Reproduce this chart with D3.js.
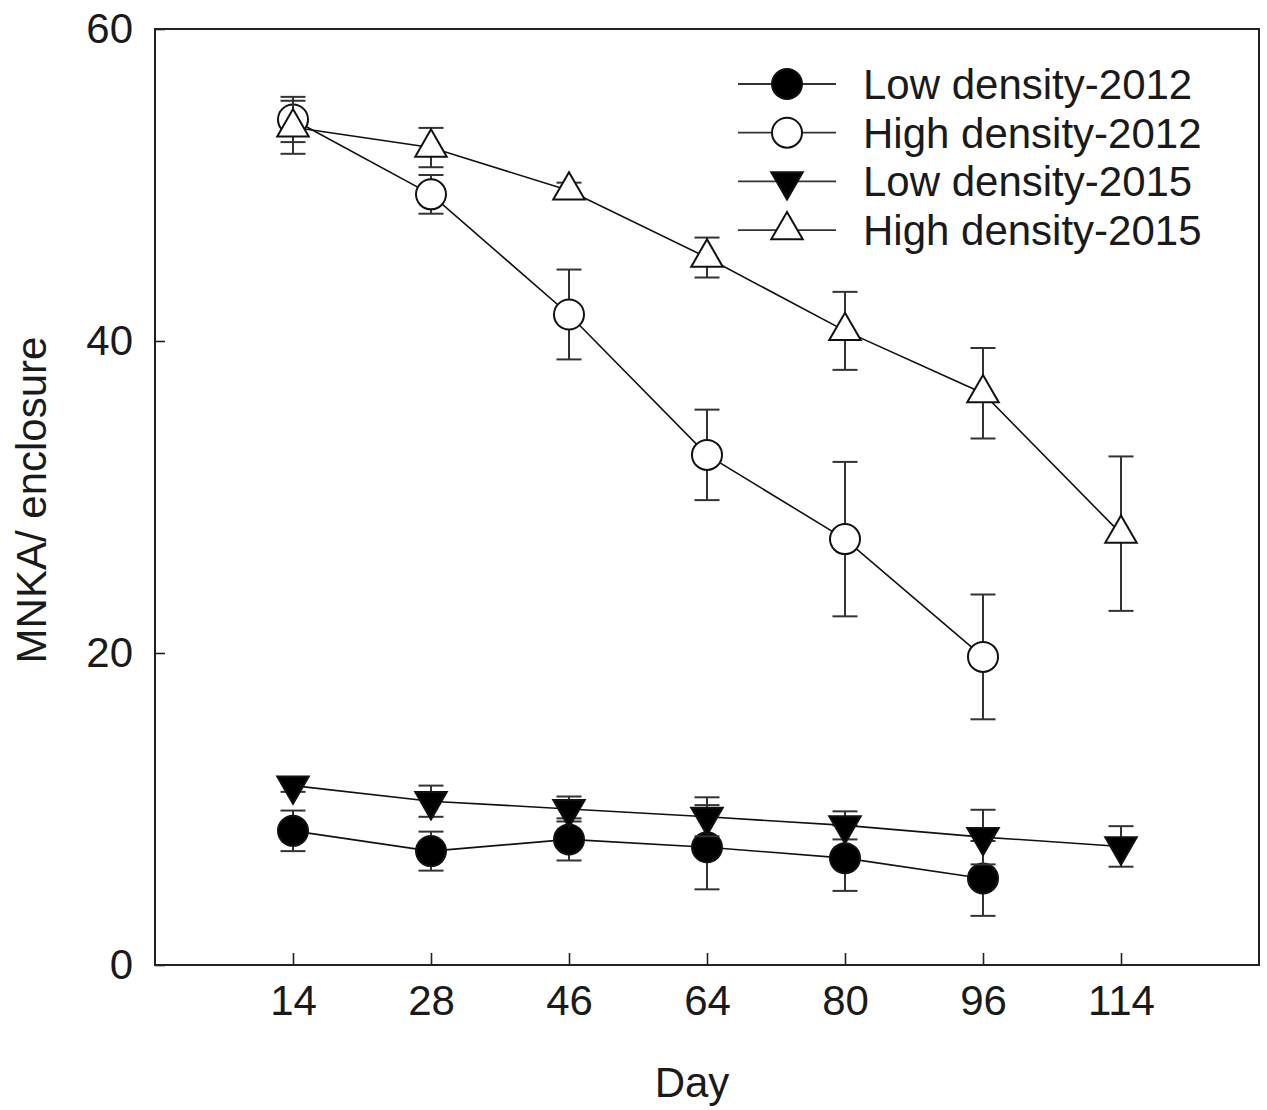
<!DOCTYPE html>
<html>
<head>
<meta charset="utf-8">
<script src="https://cdn.jsdelivr.net/npm/d3@7"></script>
<style>
  body { margin: 0; background: #fff; }
  text { font-family: "Liberation Sans", Arial, sans-serif; fill: #1a1a1a; }
</style>
</head>
<body>
<div id="chart"></div>
<script>
// days on the x axis
var days = ["14", "28", "46", "64", "80", "96", "114"];

// mean MNKA per enclosure and error
var lowDensity2012 = [8.6, 7.3, 8.05, 7.55, 6.85, 5.55];
var lowDensity2012Err = [1.3, 1.25, 1.35, 2.7, 2.1, 2.4];
var highDensity2012 = [54.2, 49.4, 41.7, 32.7, 27.3, 19.75];
var highDensity2012Err = [1.45, 1.24, 2.88, 2.9, 4.95, 4.0];
var lowDensity2015 = [11.5, 10.5, 10.0, 9.5, 8.95, 8.2, 7.6];
var lowDensity2015Err = [0.4, 1.0, 0.8, 1.25, 0.9, 1.75, 1.3];
var highDensity2015 = [53.7, 52.4, 49.65, 45.35, 40.65, 36.65, 27.65];
var highDensity2015Err = [1.7, 1.26, 0.5, 1.28, 2.5, 2.9, 4.95];

var seriesNames = ["Low density-2012", "High density-2012", "Low density-2015", "High density-2015"];
var yTicks = [0, 20, 40, 60];

var width = 1267, height = 1110;
var plotLeft = 155, plotRight = 1259, plotTop = 29, plotBottom = 965;

var svg = d3.select("#chart").append("svg")
    .attr("width", width)
    .attr("height", height);

var x = d3.scalePoint().domain(days).range([plotLeft, plotRight]).padding(1);
var y = d3.scaleLinear().domain([0, 60]).range([plotBottom, plotTop]);

var series = [
  {name: seriesNames[0], vals: lowDensity2012, err: lowDensity2012Err, shape: "circle", fill: "#000"},
  {name: seriesNames[1], vals: highDensity2012, err: highDensity2012Err, shape: "circle", fill: "#fff"},
  {name: seriesNames[2], vals: lowDensity2015, err: lowDensity2015Err, shape: "down", fill: "#000"},
  {name: seriesNames[3], vals: highDensity2015, err: highDensity2015Err, shape: "up", fill: "#fff"}
];

var triSize = 430;
function symbolPath(shape) {
  if (shape == "circle") return d3.symbol().type(d3.symbolCircle).size(Math.PI * 15 * 15)();
  return d3.symbol().type(d3.symbolTriangle).size(triSize)();
}
function symbolRotate(shape) {
  return shape == "down" ? " rotate(180)" : "";
}

// axes
var xAxis = d3.axisBottom(x).tickSizeInner(-12).tickSizeOuter(0).tickPadding(20);
var yAxis = d3.axisLeft(y).tickValues(yTicks).tickSizeInner(-10).tickSizeOuter(0).tickPadding(22);

var gx = svg.append("g")
    .attr("transform", "translate(0," + plotBottom + ")")
    .call(xAxis);
var gy = svg.append("g")
    .attr("transform", "translate(" + plotLeft + ",0)")
    .call(yAxis);

[gx, gy].forEach(function(g) {
  g.select(".domain").remove();
  g.selectAll(".tick line").attr("stroke", "#222").attr("stroke-width", 1.6);
  g.selectAll(".tick text")
    .style("font-size", "42px")
    .style("font-family", "'Liberation Sans', Arial, sans-serif")
    .attr("fill", "#1a1a1a");
});

// frame
svg.append("rect")
    .attr("x", plotLeft)
    .attr("y", plotTop)
    .attr("width", plotRight - plotLeft)
    .attr("height", plotBottom - plotTop)
    .attr("fill", "none")
    .attr("stroke", "#222")
    .attr("stroke-width", 2);

var line = d3.line()
    .x(function(d, i) { return x(days[i]); })
    .y(function(d) { return y(d); });

series.forEach(function(s) {
  var g = svg.append("g");

  g.append("path")
      .attr("d", line(s.vals))
      .attr("fill", "none")
      .attr("stroke", "#111")
      .attr("stroke-width", 1.6);

  var eb = g.selectAll(".eb").data(s.vals).enter().append("g");
  eb.append("line")
      .attr("x1", function(d, i) { return x(days[i]); })
      .attr("x2", function(d, i) { return x(days[i]); })
      .attr("y1", function(d, i) { return y(d + s.err[i]); })
      .attr("y2", function(d, i) { return y(d - s.err[i]); })
      .attr("stroke", "#333").attr("stroke-width", 2);
  [1, -1].forEach(function(sign) {
    eb.append("line")
        .attr("x1", function(d, i) { return x(days[i]) - 12.5; })
        .attr("x2", function(d, i) { return x(days[i]) + 12.5; })
        .attr("y1", function(d, i) { return y(d + sign * s.err[i]); })
        .attr("y2", function(d, i) { return y(d + sign * s.err[i]); })
        .attr("stroke", "#333").attr("stroke-width", 2);
  });

  g.selectAll(".pt").data(s.vals).enter().append("path")
      .attr("d", symbolPath(s.shape))
      .attr("transform", function(d, i) {
        return "translate(" + x(days[i]) + "," + y(d) + ")" + symbolRotate(s.shape);
      })
      .attr("fill", s.fill)
      .attr("stroke", "#111")
      .attr("stroke-width", 2);
});

// legend
var legendX = 738, legendY = 84, legendStep = 48.7;
var legend = svg.selectAll(".legend").data(series).enter().append("g")
    .attr("transform", function(d, i) { return "translate(" + legendX + "," + (legendY + i * legendStep) + ")"; });

legend.append("line")
    .attr("x1", 0).attr("x2", 98)
    .attr("y1", 0).attr("y2", 0)
    .attr("stroke", "#333").attr("stroke-width", 1.8);
legend.append("path")
    .attr("d", function(d) { return symbolPath(d.shape); })
    .attr("transform", function(d) { return "translate(49,0)" + symbolRotate(d.shape); })
    .attr("fill", function(d) { return d.fill; })
    .attr("stroke", "#111")
    .attr("stroke-width", 2);
legend.append("text")
    .attr("x", 125)
    .attr("y", 15)
    .text(function(d) { return d.name; })
    .style("font-size", "42px");

// axis titles
svg.append("text")
    .attr("x", 692)
    .attr("y", 1097)
    .attr("text-anchor", "middle")
    .text("Day")
    .style("font-size", "42px");

svg.append("text")
    .attr("transform", "translate(46,500) rotate(-90)")
    .attr("text-anchor", "middle")
    .text("MNKA/ enclosure")
    .style("font-size", "42px");
</script>
</body>
</html>
